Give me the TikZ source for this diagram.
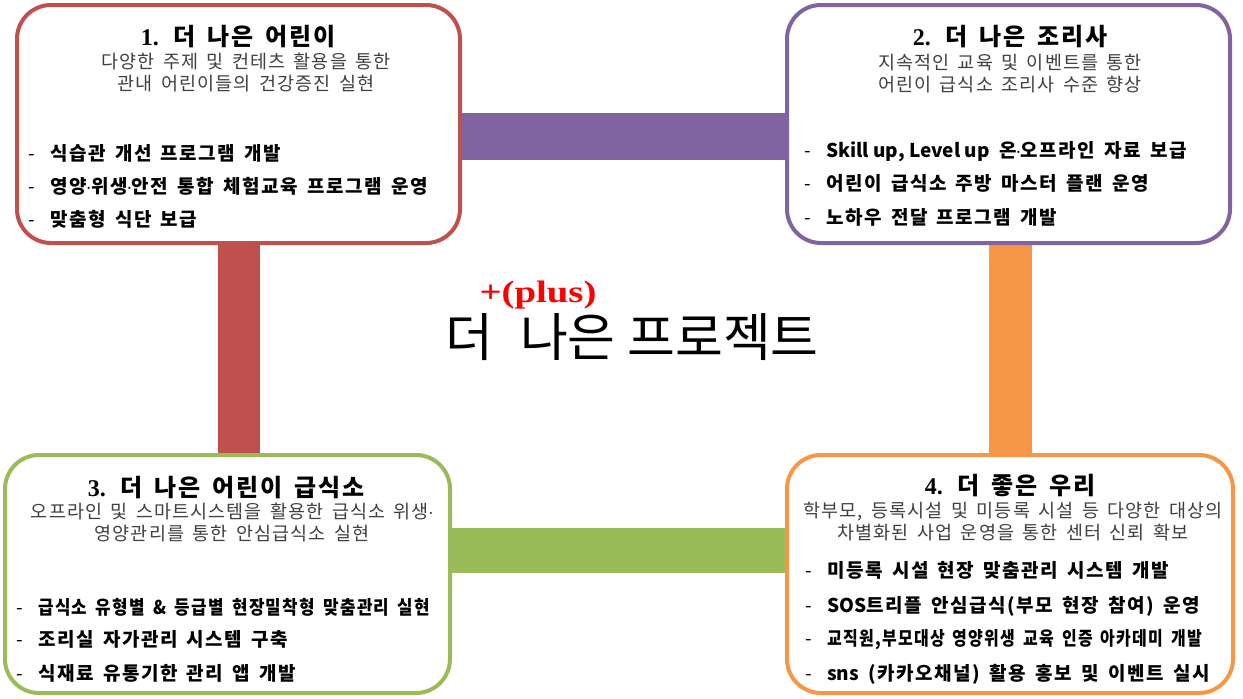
\documentclass[tikz,border=0pt]{standalone}
\usepackage{fontspec}
\usepackage{graphicx}
\setmainfont{Noto Sans CJK KR}
\newfontfamily\krspaced{Noto Sans CJK KR}[LetterSpace=8, WordSpace=1.6]
\newfontfamily\krsub{Noto Sans CJK KR}[LetterSpace=6, WordSpace=1.6]
\newfontfamily\numfont{Liberation Serif}
\newfontfamily\latinfont{Liberation Sans}
\usetikzlibrary{backgrounds}

\definecolor{boxred}{HTML}{C0504D}
\definecolor{boxpurple}{HTML}{8064A2}
\definecolor{boxgreen}{HTML}{9BBB59}
\definecolor{boxorange}{HTML}{F79646}

\tikzset{
  box/.style={draw=#1, line width=4pt, rounded corners=34pt, fill=white,
    minimum width=443pt, minimum height=238pt, inner sep=0pt},
  bar/.style={draw=#1, line width=45pt, line cap=butt},
  boxtitle/.style={anchor=base, inner sep=0pt, font=\fontsize{24}{28}\krspaced\bfseries},
  boxsub/.style={align=center, inner sep=0pt, text=black!75, font=\fontsize{18.5}{22}\krsub},
  item/.style={anchor=base west, inner sep=0pt, font=\fontsize{19}{22}\krspaced\bfseries},
}
\newcommand{\listdash}{\makebox[22pt][l]{\mdseries-}}
\newcommand{\mdot}{{\latinfont\mdseries\kern-1pt·\kern-1pt}}

\begin{document}
\begin{tikzpicture}[x=1pt, y=-1pt, line cap=round, line join=round]
  \useasboundingbox (0,0) rectangle (1243,699);

  % 네 상자
  \node[box=boxred] (kids) at (238.5,124) {};
  \node[box=boxpurple] (cooks) at (1008.5,124) {};
  \node[box=boxgreen, minimum width=445pt] (kitchen) at (227.5,574) {};
  \node[box=boxorange, minimum width=446pt] (us) at (1010,574) {};

  % 연결 막대
  \begin{scope}[on background layer]
    \draw[bar=boxpurple, line width=47pt] ([yshift=-12.5pt]kids.east) -- ([yshift=-12.5pt]cooks.west);
    \draw[bar=boxred, line width=42pt] (kids.south) -- (kids.south |- kitchen.north);
    \draw[bar=boxorange, line width=43pt] (us.north |- cooks.south) -- (us.north);
    \coordinate (gleft) at ([yshift=23.5pt]kitchen.east);
    \draw[bar=boxgreen] (gleft) -- (gleft -| us.west);
  \end{scope}

  % 가운데 제목
  \node[inner sep=0pt, font=\fontsize{52}{54}\selectfont] (project) at (632,337) {더\hspace{27pt}나은 프로젝트};
  \node[inner sep=0pt, text=red, font=\fontsize{31}{33}\numfont\bfseries] (plus) at (538,295) {\scalebox{1.25}[1]{+(plus)}};

  % 1. 더 나은 어린이
  \node[boxtitle] (kidstitle) at (238,45) {{\numfont 1.} 더 나은 어린이};
  \node[boxsub] (kidssub) at (246,73) {다양한 주제 및 컨테츠 활용을 통한\\관내 어린이들의 건강증진 실현};
  \foreach \t [count=\i] in {식습관 개선 프로그램 개발, 영양\mdot 위생\mdot 안전 통합 체험교육 프로그램 운영, 맞춤형 식단 보급}
    \node[item] (kidsitem\i) at (28,{160+33*(\i-1)}) {\listdash\t};

  % 2. 더 나은 조리사
  \node[boxtitle] (cookstitle) at (1010,45) {{\numfont 2.} 더 나은 조리사};
  \node[boxsub] (cookssub) at (1010,73.5) {지속적인 교육 및 이벤트를 통한\\어린이 급식소 조리사 수준 향상};
  \foreach \t [count=\i] in {{{\rmfamily\bfseries Skill up, Level up} 온\mdot 오프라인 자료 보급}, 어린이 급식소 주방 마스터 플랜 운영, 노하우 전달 프로그램 개발}
    \node[item] (cooksitem\i) at (804,{157+33.5*(\i-1)}) {\listdash\t};

  % 3. 더 나은 어린이 급식소
  \node[boxtitle] (kitchentitle) at (226,496) {{\numfont 3.} 더 나은 어린이 급식소};
  \node[boxsub] (kitchensub) at (232,523) {오프라인 및 스마트시스템을 활용한 급식소 위생\mdot\\영양관리를 통한 안심급식소 실현};
  \node[item] (kitchenitem1) at (16,614) {\listdash\resizebox{392pt}{\height}{급식소 유형별 \& 등급별 현장밀착형 맞춤관리 실현}};
  \node[item] (kitchenitem2) at (16,646) {\listdash 조리실 자가관리 시스템 구축};
  \node[item] (kitchenitem3) at (16,680) {\listdash 식재료 유통기한 관리 앱 개발};

  % 4. 더 좋은 우리
  \node[boxtitle] (ustitle) at (1010,494) {{\numfont 4.} 더 좋은 우리};
  \node[boxsub] (ussub) at (1013,522) {학부모, 등록시설 및 미등록 시설 등 다양한 대상의\\차별화된 사업 운영을 통한 센터 신뢰 확보};
  \node[item] (usitem1) at (805,577) {\listdash 미등록 시설 현장 맞춤관리 시스템 개발};
  \node[item] (usitem2) at (805,612) {\listdash {\rmfamily\bfseries SOS}트리플 안심급식(부모 현장 참여) 운영};
  \node[item] (usitem3) at (805,645) {\listdash\resizebox{375pt}{\height}{교직원,부모대상 영양위생 교육 인증 아카데미 개발}};
  \node[item] (usitem4) at (805,680) {\listdash {\rmfamily\bfseries sns} (카카오채널) 활용 홍보 및 이벤트 실시};
\end{tikzpicture}
\end{document}
